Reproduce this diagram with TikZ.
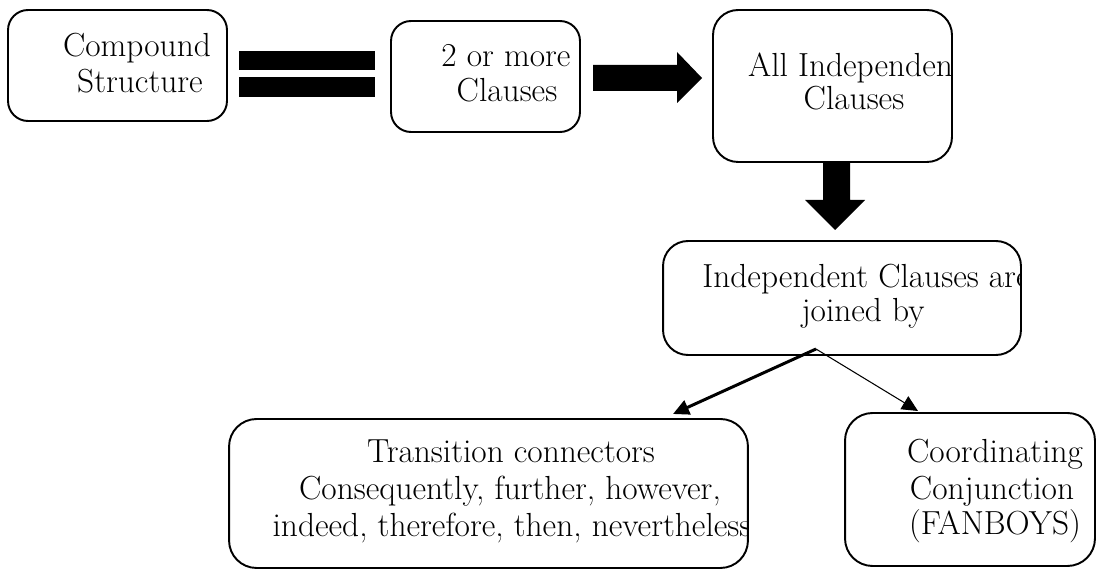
\documentclass[tikz,border=0pt]{standalone}
\usetikzlibrary{arrows.meta}
\begin{document}
\begin{tikzpicture}[x=0.02cm,y=-0.02cm,
  box/.style={draw, line width=1.1pt, inner sep=0pt, rectangle},
  txt/.style={font=\fontsize{19}{22}\selectfont, inner sep=0pt, anchor=base},
  blk/.style={fill=black, draw=none},
  conn/.style={-{Triangle[length=0.32cm,width=0.3cm]}}]
\useasboundingbox (0,0) rectangle (1099,570);

% boxes
\node[box, rounded corners=0.4cm, minimum width=4.38cm, minimum height=2.22cm] (A) at (117.5,65.5) {};
\node[box, rounded corners=0.4cm, minimum width=3.78cm, minimum height=2.22cm] (B) at (485.5,76.5) {};
\node[box, rounded corners=0.5cm, minimum width=4.78cm, minimum height=3.04cm] (C) at (832.5,86) {};
\node[box, rounded corners=0.5cm, minimum width=7.16cm, minimum height=2.28cm] (D) at (842,298) {};
\node[box, rounded corners=0.55cm, minimum width=10.38cm, minimum height=2.98cm] (E) at (488.5,493.5) {};
\node[box, rounded corners=0.55cm, minimum width=5.0cm, minimum height=3.06cm] (F) at (970,489.5) {};

% texts (clipped to their boxes)
\begin{scope}
\clip[rounded corners=0.4cm] (A.south west) rectangle (A.north east);
\node[txt] (A1) at (137,57) {Compound};
\node[txt] (A2) at (140,93) {Structure};
\end{scope}
\begin{scope}
\clip[rounded corners=0.4cm] (B.south west) rectangle (B.north east);
\node[txt] (B1) at (506,67) {2 or more};
\node[txt] (B2) at (507,102) {Clauses};
\end{scope}
\begin{scope}
\clip[rounded corners=0.5cm] (C.south west) rectangle (C.north east);
\node[txt] (C1) at (856,77) {All Independent};
\node[txt] (C2) at (854,110) {Clauses};
\end{scope}
\begin{scope}
\clip[rounded corners=0.5cm] (D.south west) rectangle (D.north east);
\node[txt] (D1) at (866,288) {Independent Clauses are};
\node[txt] (D2) at (863,322) {joined by};
\end{scope}
\begin{scope}
\clip[rounded corners=0.55cm] (E.south west) rectangle (E.north east);
\node[txt] (E1) at (511,463) {Transition connectors};
\node[txt] (E2) at (510,500) {Consequently, further, however,};
\node[txt] (E3) at (512,537) {indeed, therefore, then, nevertheless};
\end{scope}
\begin{scope}
\clip[rounded corners=0.55cm] (F.south west) rectangle (F.north east);
\node[txt] (F1) at (995,463) {Coordinating};
\node[txt] (F2) at (992,500) {Conjunction};
\node[txt] (F3) at (995,535) {(FANBOYS)};
\end{scope}

% equals sign between A and B
\fill[blk] (239,51) rectangle (375,70);
\fill[blk] (239,77) rectangle (375,97);

% block arrow B -> C
\fill[blk] (593,65) -- (677,65) -- (677,52) -- (702,78) -- (677,103) -- (677,91) -- (593,91) -- cycle;

% block arrow C -> D
\fill[blk] (823,162) -- (850,162) -- (850,200) -- (865,200) -- (835,230) -- (805,200) -- (823,200) -- cycle;

% connectors D -> E, D -> F
\coordinate (j) at (816,349);
\coordinate (et) at (673,414);
\coordinate (ft) at (918,411);
\draw[conn, line width=1.7pt] (j) -- (et);
\draw[conn, line width=0.6pt] (j) -- (ft);
\end{tikzpicture}
\end{document}
